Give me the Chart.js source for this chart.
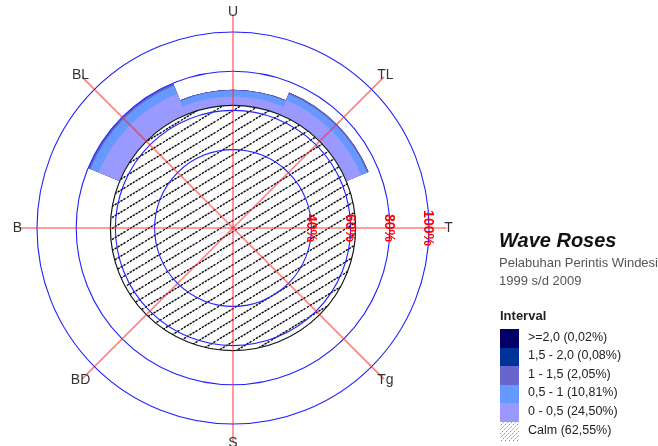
<!DOCTYPE html>
<html>
<head>
<meta charset="utf-8">
<title>Wave Roses - Pelabuhan Perintis Windesi</title>
<script src="https://cdn.jsdelivr.net/npm/chart.js@4.4.1/dist/chart.umd.min.js"></script>
<style>
  html, body { margin: 0; padding: 0; background: #ffffff; }
  #wrap { position: relative; width: 658px; height: 446px; font-family: "Liberation Sans", Arial, sans-serif; }
  #wrap canvas { position: absolute; left: 0; top: 0; }
  .lg { position: absolute; white-space: nowrap; }
</style>
</head>
<body>
<div id="wrap">
  <canvas id="rose"></canvas>
  <div id="legend"></div>
</div>
<script>
// Directions, clockwise from north
const directions = ['U', 'TL', 'T', 'Tg', 'S', 'BD', 'B', 'BL'];

// Calm share (%)
const calmPercent = 62.55;

// Frequency (%) per direction for each wave height interval (m)
const h0to05  = [4.60, 8.20, 0, 0, 0, 0, 0, 11.70];
const h05to1  = [3.00, 3.31, 0, 0, 0, 0, 0, 4.50];
const h1to15  = [0.40, 0.75, 0, 0, 0, 0, 0, 0.90];
const h15to2  = [0.00, 0.04, 0, 0, 0, 0, 0, 0.04];
const h2up    = [0.00, 0.00, 0, 0, 0, 0, 0, 0.02];

// Interval names and their overall share (%)
const intervalLabels = ['0 - 0,5', '0,5 - 1', '1 - 1,5', '1,5 - 2,0', '>=2,0'];
const intervalTotals = [24.50, 10.81, 2.05, 0.08, 0.02];

// Rings labelled on the east axis (%)
const ringTicks = [40, 60, 80, 100];

// Fill colours per interval, lowest first
const intervalColors = ['#9999ff', '#6699ff', '#6666cc', '#003399', '#000066'];

const classSeries = [h0to05, h05to1, h1to15, h15to2, h2up];

// Petals stack outward from the calm circle: each ring reaches calm + running sum
const cumulative = [];
classSeries.forEach((series, k) => {
  cumulative.push(series.map((v, d) =>
    calmPercent + classSeries.slice(0, k + 1).reduce((s, arr) => s + arr[d], 0)));
});

function hatchTile() {
  const c = document.createElement('canvas');
  const W = 18, H = 11;
  c.width = W; c.height = H;
  const g = c.getContext('2d');
  g.fillStyle = '#ffffff';
  g.fillRect(0, 0, W, H);
  g.strokeStyle = '#000000';
  g.lineWidth = 1.3;
  g.setLineDash([2.4, 1.0]);
  for (let n = -1; n <= 1; n++) {
    g.beginPath();
    g.moveTo(-2, H + 2 * H / W + n * H);
    g.lineTo(W + 2, -2 * H / W + n * H);
    g.stroke();
  }
  return c;
}

const canvas = document.getElementById('rose');
const hatch = canvas.getContext('2d').createPattern(hatchTile(), 'repeat');

// Datasets: calm on top, then intervals from lowest (smallest radius) to highest
const datasets = [{
  label: 'Calm',
  data: directions.map(() => calmPercent),
  backgroundColor: hatch,
  borderWidth: 0
}];
cumulative.forEach((vals, k) => {
  datasets.push({
    label: intervalLabels[k],
    data: vals,
    backgroundColor: intervalColors[k],
    borderWidth: 0
  });
});

const roseDecor = {
  id: 'roseDecor',
  afterDatasetsDraw(chart) {
    const s = chart.scales.r;
    const ctx = chart.ctx;
    const cx = s.xCenter, cy = s.yCenter;
    ctx.save();
    // outline of the calm circle
    ctx.beginPath();
    ctx.arc(cx, cy, s.getDistanceFromCenterForValue(calmPercent), 0, Math.PI * 2);
    ctx.strokeStyle = '#1a1a1a';
    ctx.lineWidth = 1.2;
    ctx.stroke();
    ctx.restore();
  },
  afterDraw(chart) {
    const s = chart.scales.r;
    const ctx = chart.ctx;
    const cx = s.xCenter, cy = s.yCenter, R = s.drawingArea;
    ctx.save();
    // direction spokes
    ctx.strokeStyle = 'rgba(255, 40, 40, 0.6)';
    ctx.lineWidth = 1.6;
    directions.forEach((d, i) => {
      const a = -Math.PI / 2 + i * Math.PI * 2 / directions.length;
      ctx.beginPath();
      ctx.moveTo(cx, cy);
      ctx.lineTo(cx + Math.cos(a) * R * 1.09, cy + Math.sin(a) * R * 1.09);
      ctx.stroke();
    });
    // compass labels
    ctx.font = '14px "Liberation Sans", Arial, sans-serif';
    ctx.fillStyle = '#333333';
    ctx.textAlign = 'center';
    ctx.textBaseline = 'middle';
    directions.forEach((d, i) => {
      const a = -Math.PI / 2 + i * Math.PI * 2 / directions.length;
      ctx.fillText(d, cx + Math.cos(a) * R * 1.1, cy + Math.sin(a) * R * 1.1);
    });
    // ring percentages, written along the east axis
    ctx.font = 'bold 14px "Liberation Sans", Arial, sans-serif';
    ctx.fillStyle = '#ff0000';
    ringTicks.forEach(v => {
      const r = s.getDistanceFromCenterForValue(v);
      ctx.save();
      ctx.translate(cx + r - 1, cy);
      ctx.rotate(Math.PI / 2);
      ctx.fillText(v + '%', 0, 0);
      ctx.restore();
    });
    ctx.restore();
  }
};

new Chart(canvas, {
  type: 'polarArea',
  data: { labels: directions, datasets },
  plugins: [roseDecor],
  options: {
    responsive: true,
    maintainAspectRatio: false,
    animation: false,
    layout: { padding: { left: 37, top: 32, right: 229, bottom: 22 } },
    plugins: { legend: { display: false }, tooltip: { enabled: false } },
    scales: {
      r: {
        min: 0,
        max: 100,
        startAngle: -22.5,
        afterBuildTicks: (scale) => {
          scale.ticks = [0].concat(ringTicks).map(v => ({ value: v }));
        },
        ticks: { display: false },
        pointLabels: { display: false },
        angleLines: { display: false },
        grid: { circular: true, color: '#2020ff', lineWidth: 1.1, z: 1 }
      }
    }
  }
});

// Legend block
const fmt = v => v.toFixed(2).replace('.', ',');
const legend = document.getElementById('legend');
function addText(text, left, centerY, size, style) {
  const el = document.createElement('div');
  el.className = 'lg';
  el.textContent = text;
  el.style.left = left + 'px';
  el.style.top = (centerY - size / 2) + 'px';
  el.style.fontSize = size + 'px';
  el.style.lineHeight = size + 'px';
  Object.assign(el.style, style || {});
  legend.appendChild(el);
}
addText('Wave Roses', 499, 239.5, 20, { fontWeight: 'bold', fontStyle: 'italic', color: '#111' });
addText('Pelabuhan Perintis Windesi', 499, 262.5, 13, { color: '#555' });
addText('1999 s/d 2009', 499, 280, 13, { color: '#555' });
addText('Interval', 500, 315, 13, { fontWeight: 'bold', color: '#222' });

const rows = intervalLabels.map((lab, k) => ({
  text: lab + ' (' + fmt(intervalTotals[k]) + '%)',
  color: intervalColors[k]
})).reverse();
rows.push({ text: 'Calm (' + fmt(calmPercent) + '%)', color: null });

const step = 18.6, firstTop = 329;
rows.forEach((row, i) => {
  const top = firstTop + i * step;
  const sw = document.createElement('div');
  sw.className = 'lg';
  sw.style.left = '500px';
  sw.style.top = top + 'px';
  sw.style.width = '19px';
  sw.style.height = step + 'px';
  if (row.color) {
    sw.style.background = row.color;
  } else {
    const c = document.createElement('canvas');
    c.width = 19; c.height = 19;
    const g = c.getContext('2d');
    g.strokeStyle = '#888';
    g.lineWidth = 1;
    g.setLineDash([1.5, 1]);
    for (let k = -19; k < 19; k += 4) {
      g.beginPath(); g.moveTo(k, 19); g.lineTo(k + 19, 0); g.stroke();
    }
    sw.appendChild(c);
  }
  legend.appendChild(sw);
  addText(row.text, 528, top + step / 2 - 1.5, 12.5, { color: '#222' });
});
</script>
</body>
</html>
